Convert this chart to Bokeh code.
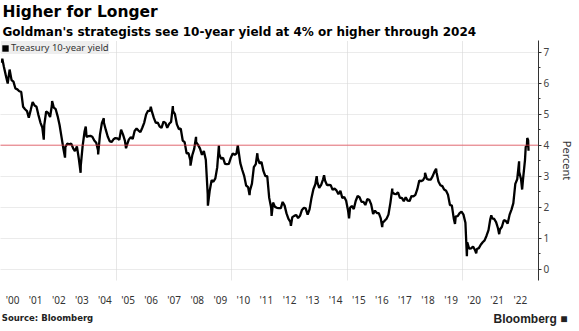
import pandas as pd
from bokeh.plotting import figure
from bokeh.models import (Range1d, FixedTicker, Span, SingleIntervalTicker, LinearAxis,
                          Legend, LegendItem, ColumnDataSource, Title)
from bokeh.embed import file_html
from bokeh.resources import INLINE

# ---- data (monthly level of the 10-year yield, %) ----
first_month = "2000-01-01"
yield_monthly = [
    6.66, 6.52, 6.26, 5.99, 6.44, 6.10, 6.05, 5.83, 5.80, 5.74, 5.72, 5.24,   # 2000
    5.16, 5.10, 4.89, 5.14, 5.39, 5.28, 5.24, 4.97, 4.73, 4.57, 4.65, 5.09,   # 2001
    5.04, 4.91, 5.28, 5.21, 5.16, 4.93, 4.65, 4.26, 3.87, 3.94, 4.05, 4.03,   # 2002
    4.05, 3.90, 3.81, 3.96, 3.57, 3.33, 3.98, 4.45, 4.27, 4.29, 4.30, 4.27,   # 2003
    4.15, 4.08, 3.83, 4.35, 4.72, 4.73, 4.50, 4.28, 4.13, 4.10, 4.19, 4.23,   # 2004
    4.22, 4.17, 4.50, 4.34, 4.14, 4.00, 4.18, 4.26, 4.20, 4.46, 4.54, 4.47,   # 2005
    4.42, 4.57, 4.72, 4.99, 5.11, 5.11, 5.09, 4.88, 4.72, 4.73, 4.60, 4.56,   # 2006
    4.76, 4.72, 4.56, 4.69, 4.75, 5.10, 5.00, 4.67, 4.52, 4.53, 4.15, 4.10,   # 2007
    3.74, 3.74, 3.51, 3.68, 3.88, 4.10, 4.01, 3.89, 3.69, 3.81, 3.53, 2.42,   # 2008
    2.52, 2.87, 2.82, 2.93, 3.29, 3.72, 3.56, 3.59, 3.40, 3.39, 3.40, 3.59,   # 2009
    3.73, 3.69, 3.73, 3.85, 3.42, 3.20, 3.01, 2.70, 2.65, 2.54, 2.76, 3.29,   # 2010
    3.39, 3.58, 3.41, 3.46, 3.17, 3.00, 3.00, 2.30, 1.98, 2.15, 2.01, 1.98,   # 2011
    1.97, 1.97, 2.17, 2.05, 1.80, 1.62, 1.53, 1.68, 1.72, 1.75, 1.65, 1.72,   # 2012
    1.91, 1.98, 1.96, 1.76, 1.93, 2.30, 2.58, 2.74, 2.81, 2.62, 2.72, 2.90,   # 2013
    2.86, 2.71, 2.72, 2.71, 2.56, 2.60, 2.54, 2.42, 2.53, 2.30, 2.33, 2.21,   # 2014
    1.88, 1.98, 2.04, 1.94, 2.20, 2.36, 2.32, 2.17, 2.17, 2.07, 2.26, 2.24,   # 2015
    2.09, 1.78, 1.89, 1.81, 1.81, 1.64, 1.50, 1.56, 1.63, 1.76, 2.14, 2.49,   # 2016
    2.43, 2.42, 2.48, 2.30, 2.30, 2.19, 2.32, 2.21, 2.20, 2.36, 2.35, 2.40,   # 2017
    2.58, 2.86, 2.84, 2.87, 2.98, 2.91, 2.89, 2.89, 3.00, 3.15, 3.12, 2.83,   # 2018
    2.71, 2.68, 2.57, 2.53, 2.40, 2.07, 2.06, 1.63, 1.70, 1.71, 1.81, 1.86,   # 2019
    1.76, 1.50, 0.87, 0.66, 0.67, 0.73, 0.62, 0.65, 0.68, 0.79, 0.87, 0.93,   # 2020
    1.08, 1.26, 1.61, 1.64, 1.62, 1.52, 1.32, 1.28, 1.37, 1.58, 1.56, 1.47,   # 2021
    1.76, 1.93, 2.13, 2.75, 2.90, 3.14, 2.90, 2.90, 3.52, 3.98,               # 2022
]

# turning points visible in the picture (date, level)
extreme_dates = [
    "2000-01-20", "2001-11-07", "2002-03-19", "2002-10-09", "2003-06-13",
    "2003-09-02", "2004-03-16", "2004-06-14", "2005-06-01", "2006-06-28",
    "2007-06-12", "2008-03-17", "2008-06-13", "2008-12-18", "2009-06-10",
    "2010-04-05", "2010-10-08", "2011-02-08", "2011-09-22", "2012-07-24",
    "2013-09-05", "2013-12-31", "2015-01-30", "2016-07-08", "2016-12-15",
    "2018-05-17", "2018-11-08", "2019-09-03", "2020-03-09", "2020-08-04",
    "2021-03-31", "2021-08-03", "2022-06-14", "2022-08-01", "2022-09-27",
    "2022-10-21", "2022-11-04", "2022-11-10",
]
extreme_values = [
    6.79, 4.18, 5.42, 3.60, 3.11,
    4.60, 3.70, 4.87, 3.90, 5.24,
    5.26, 3.34, 4.27, 2.05, 3.99,
    3.99, 2.39, 3.74, 1.72, 1.40,
    3.00, 3.03, 1.64, 1.36, 2.60,
    3.11, 3.24, 1.46, 0.42, 0.51,
    1.74, 1.13, 3.48, 2.57, 3.95,
    4.23, 4.16, 3.82,
]

label_years = list(range(2000, 2023))
year_labels = ["'%02d" % (y % 100) for y in label_years]
grid_years = [2005, 2010, 2015, 2020]
reference_level = 4.0

title_text = "Higher for Longer"
subtitle_text = "Goldman's strategists see 10-year yield at 4% or higher through 2024"
source_text = "Source: Bloomberg"
logo_text = "Bloomberg \u25A0"
legend_text = "Treasury 10-year yield"

# ---- build the series ----
mdates = pd.date_range(first_month, periods=len(yield_monthly), freq="MS") + pd.Timedelta(days=14)
df = pd.concat([
    pd.DataFrame({"date": mdates, "y": yield_monthly}),
    pd.DataFrame({"date": pd.to_datetime(extreme_dates), "y": extreme_values}),
]).sort_values("date")


def dec_year(ts):
    days = 366 if ts.is_leap_year else 365
    return ts.year + (ts.dayofyear - 1) / days


df["x"] = [dec_year(t) for t in df["date"]]
src = ColumnDataSource(dict(x=df["x"].tolist(), y=df["y"].tolist()))

FONT = "Noto Sans"
BOLD = "DejaVu Sans"

X0, X1 = 1999.974, 2023.29
FRAME_W = 538.0

p = figure(width=579, height=331, output_backend="svg", toolbar_location=None, title=None,
           x_range=Range1d(X0, X1), y_range=Range1d(-0.365, 7.377),
           y_axis_location="right",
           min_border_left=0, min_border_right=41, min_border_top=40, min_border_bottom=51,
           outline_line_color=None, background_fill_color="white")

# titles (first added sits closest to the plot)
p.add_layout(Title(text=subtitle_text, text_font=BOLD, text_font_style="bold",
                   text_font_size="12px", text_color="black", align="left",
                   offset=2, standoff=3), "above")
p.add_layout(Title(text=title_text, text_font=BOLD, text_font_style="bold",
                   text_font_size="15.5px", text_color="black", align="left",
                   offset=2, standoff=1), "above")

# grids
p.xgrid.ticker = FixedTicker(ticks=grid_years)
p.xgrid.grid_line_color = "#cfcfcf"
p.xgrid.grid_line_dash = "1 1"
p.ygrid.grid_line_color = "#d6d6d6"
p.ygrid.grid_line_dash = "1 1"

# reference line at 4%
p.add_layout(Span(location=reference_level, dimension="width", line_color="#e5414c",
                  line_dash="1 1", line_width=1.5))

r = p.line("x", "y", source=src, line_color="black", line_width=2.3)

# y axis (right)
ya = p.yaxis[0]
ya.ticker = SingleIntervalTicker(interval=1, num_minor_ticks=2)
ya.axis_line_color = "#333333"
ya.major_tick_line_color = "#333333"
ya.minor_tick_line_color = "#333333"
ya.major_tick_in = 0
ya.major_tick_out = 3
ya.minor_tick_in = 0
ya.minor_tick_out = 2
ya.major_label_standoff = 2
ya.major_label_text_font = FONT
ya.major_label_text_font_size = "10px"
ya.major_label_text_color = "#444444"
ya.axis_label = "Percent"
ya.axis_label_text_font = FONT
ya.axis_label_text_font_style = "normal"
ya.axis_label_text_font_size = "11px"
ya.axis_label_text_color = "#333333"
ya.axis_label_standoff = 8

# x axis (below) with year labels centred on each year
xa = p.xaxis[0]
xa.ticker = FixedTicker(ticks=[y + 0.5 for y in label_years])
xa.major_label_overrides = {y + 0.5: lab for y, lab in zip(label_years, year_labels)}
xa.axis_line_color = None
xa.major_tick_line_color = None
xa.minor_tick_line_color = None
xa.major_tick_out = 0
xa.minor_tick_out = 0
xa.major_label_standoff = 12
xa.major_label_text_font = FONT
xa.major_label_text_font_size = "10px"
xa.major_label_text_color = "#333333"


def px_to_x(px):
    return X0 + (X1 - X0) * px / FRAME_W


def text_axis(pos, text, font, size, standoff):
    return LinearAxis(ticker=FixedTicker(ticks=[pos]), major_label_overrides={pos: text},
                      axis_line_color=None, major_tick_line_color=None,
                      minor_tick_line_color=None, major_tick_out=0, minor_tick_out=0,
                      major_label_standoff=standoff, major_label_text_font=font,
                      major_label_text_font_style="bold", major_label_text_font_size=size,
                      major_label_text_color="#222222")


# footer row: source (left) and logo (right); the second row is pulled up onto the first
src_pos = px_to_x(47)
logo_pos = px_to_x(530)
p.add_layout(text_axis(src_pos, source_text, BOLD, "8.5px", 3), "below")
p.add_layout(text_axis(logo_pos, logo_text, "Liberation Sans", "12px", -14), "below")

# legend with square swatch: zero-size quads on the series (nothing visible in the plot)
sq = p.quad(left="x", right="x", top="y", bottom="y", source=src,
            fill_color="black", line_color=None)
leg = Legend(items=[LegendItem(label=legend_text, renderers=[sq])],
             location="top_left", margin=1, padding=3, spacing=0,
             background_fill_color="#eeeeee", background_fill_alpha=1,
             border_line_color=None, glyph_width=8, glyph_height=8,
             label_standoff=2, label_text_font=FONT, label_text_font_size="9.5px",
             label_text_color="#333333", label_height=10)
p.add_layout(leg)

open("out.html", "w").write(file_html(p, INLINE))
